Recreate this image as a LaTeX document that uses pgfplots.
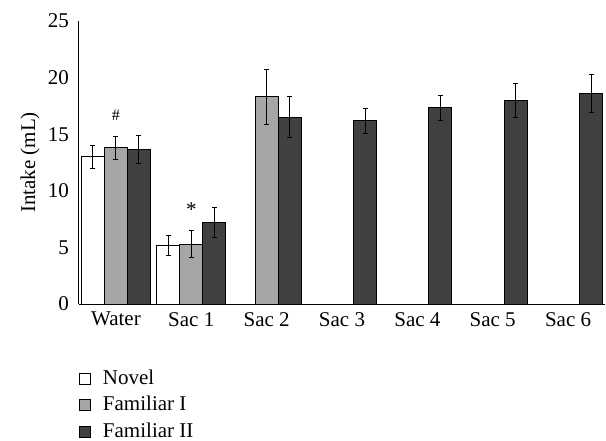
\documentclass[border=0pt]{standalone}
\usepackage{fontspec}
\setmainfont{Liberation Serif}
\usepackage{pgfplots}
\pgfplotsset{compat=1.18}
\definecolor{famI}{HTML}{A6A6A6}
\definecolor{famII}{HTML}{404040}
\newcommand{\bigf}{\fontsize{21bp}{25bp}\selectfont}
\begin{document}
\bigf
\begin{tikzpicture}[font=\bigf]
\begin{axis}[
  scale only axis,
  width=526bp, height=283bp,
  xmin=-0.49, xmax=6.49,
  ymin=0, ymax=25,
  ytick={0,5,...,25},
  xtick={0,...,6},
  xticklabels={Water,Sac 1,Sac 2,Sac 3,Sac 4,Sac 5,Sac 6},
  tick label style={font=\bigf},
  label style={font=\bigf},
  axis lines=left,
  axis line style={-, line width=1bp},
  major tick length=0pt,
  yticklabel style={xshift=-3bp},
  xticklabel style={yshift=-1bp},
  ylabel={Intake (mL)},
  ylabel style={yshift=-6bp},
  /pgf/number format/assume math mode=true,
  ybar, bar width=23bp,
  every axis plot/.append style={draw=black, line width=0.9bp},
  error bars/error bar style={line width=0.9bp, black},
  error bars/error mark options={rotate=90, mark size=2.5bp, line width=0.9bp, black},
  legend style={draw=none, fill=none, inner sep=0pt, at={(0.0,-0.224)}, anchor=north west, font=\bigf, row sep=4.8bp,
    /tikz/every odd column/.append style={column sep=10bp}},
  legend cell align=left,
  legend image code/.code={\draw[#1, line width=0.8bp] (0bp,-5.5bp) rectangle (11bp,5.5bp);},
  clip=false,
]
\addplot[fill=white, bar shift=-23bp, error bars/.cd, y dir=both, y explicit]
  coordinates {(0,13.0) +- (0,1.0) (1,5.2) +- (0,0.9)};
\addplot[fill=famI, bar shift=0bp, error bars/.cd, y dir=both, y explicit]
  coordinates {(0,13.8) +- (0,1.0) (1,5.3) +- (0,1.17) (2,18.3) +- (0,2.45)};
\addplot[fill=famII, bar shift=23bp, error bars/.cd, y dir=both, y explicit]
  coordinates {(0,13.65) +- (0,1.2) (1,7.2) +- (0,1.3) (2,16.5) +- (0,1.8)
               (3,16.2) +- (0,1.1) (4,17.35) +- (0,1.1) (5,17.95) +- (0,1.5) (6,18.6) +- (0,1.65)};
\legend{Novel, Familiar I, Familiar II}
\node[font=\fontsize{16bp}{18bp}\selectfont] at (axis cs:0,16.7) {\#};
\node[font=\fontsize{21bp}{23bp}\selectfont] at (axis cs:1,8.3) {*};
\end{axis}
\pgfresetboundingbox
\path (current axis.south west) ++(-79bp,-137bp) rectangle ++(606bp,441bp);
\end{tikzpicture}
\end{document}
